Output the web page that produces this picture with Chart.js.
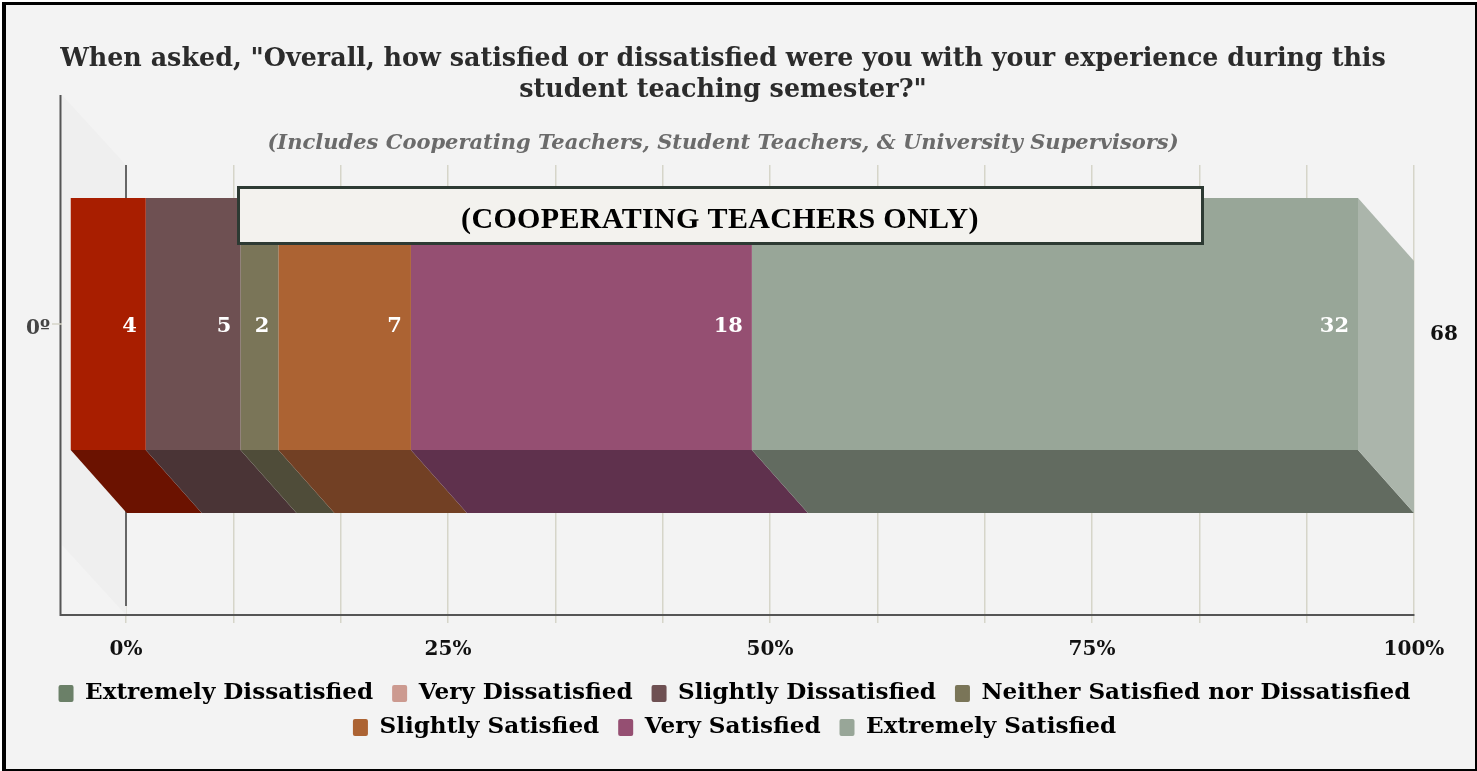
<!DOCTYPE html>
<html>
<head>
<meta charset="utf-8">
<style>
  html, body { margin: 0; background: #f3f3f3; overflow: hidden; }
  #frame { position: absolute; left: 2px; top: 2px; width: 1475px; height: 769px; box-sizing: border-box;
    border: solid #000; border-width: 3px 2px 2px 4px; box-shadow: 0 0 0 2px #fff; pointer-events: none; }
  canvas { display: block; }
</style>
</head>
<body>
<canvas id="myChart" width="1477" height="771"></canvas>
<div id="frame"></div>
<script src="https://cdn.jsdelivr.net/npm/chart.js@4"></script>
<script>
const categories = ['0º'];
const seriesNames = ['Extremely Dissatisfied', 'Very Dissatisfied', 'Slightly Dissatisfied',
  'Neither Satisfied nor Dissatisfied', 'Slightly Satisfied', 'Very Satisfied', 'Extremely Satisfied'];
const seriesValues = [0, 4, 5, 2, 7, 18, 32];
const tickLabels = ['0%', '25%', '50%', '75%', '100%'];
const barColors = ['#6b8068', '#a81e00', '#6e5052', '#7a7558', '#ac6333', '#954f72', '#98a698'];
const floorColors = ['#4a5a48', '#6b1200', '#4a3436', '#4f4c39', '#724024', '#5f314d', '#626b60'];
const legendColors = ['#6b8068', '#cc9a90', '#6e5052', '#7a7558', '#ac6333', '#954f72', '#98a698'];
const titleLines = ['When asked, "Overall, how satisfied or dissatisfied were you with your experience during this', 'student teaching semester?"'];
const subtitleText = '(Includes Cooperating Teachers, Student Teachers, & University Supervisors)';
const noteText = '(COOPERATING TEACHERS ONLY)';

const serif = '"DejaVu Serif", serif';
const noteFont = '"Liberation Serif", serif';
const total = seriesValues.reduce((a, b) => a + b, 0);

// depth of the fake 3d box
const depthX = 56, depthY = 63, shiftY = 66;

const box3d = {
  id: 'box3d',
  afterLayout(chart) {
    // title and subtitle sit a bit left of the legend
    chart.boxes.forEach(b => {
      if (b.options.text) { b.left -= 15.5; b.right -= 15.5; }
    });
  },
  beforeDatasetsDraw(chart) {
    const ctx = chart.ctx, x = chart.scales.x, area = chart.chartArea;
    const x0 = x.getPixelForValue(0);
    ctx.save();
    // left wall
    ctx.fillStyle = '#efefef';
    ctx.beginPath();
    ctx.moveTo(x0 - 64, area.top - 70);
    ctx.lineTo(x0, area.top);
    ctx.lineTo(x0, area.bottom);
    ctx.lineTo(x0 - 64, area.bottom - 70);
    ctx.fill();
    // axis lines
    ctx.strokeStyle = '#555';
    ctx.lineWidth = 2;
    ctx.beginPath();
    ctx.moveTo(x0 - 65.5, area.top - 70);
    ctx.lineTo(x0 - 65.5, area.bottom);
    ctx.lineTo(x0, area.bottom);
    ctx.stroke();
    ctx.strokeStyle = '#666';
    ctx.beginPath();
    ctx.moveTo(x0, area.top);
    ctx.lineTo(x0, area.bottom - 9);
    ctx.stroke();
    // floor faces
    chart.data.datasets.forEach((ds, i) => {
      const bar = chart.getDatasetMeta(i).data[0];
      if (!ds.data[0]) return;
      const bottom = bar.y + bar.height / 2 - shiftY;
      ctx.fillStyle = floorColors[i];
      ctx.beginPath();
      ctx.moveTo(bar.base - depthX, bottom);
      ctx.lineTo(bar.x - depthX, bottom);
      ctx.lineTo(bar.x, bottom + depthY);
      ctx.lineTo(bar.base, bottom + depthY);
      ctx.fill();
    });
    // side of the last segment
    const last = chart.getDatasetMeta(chart.data.datasets.length - 1).data[0];
    const top = last.y - last.height / 2 - shiftY;
    const bottom = last.y + last.height / 2 - shiftY;
    ctx.fillStyle = '#abb5ab';
    ctx.beginPath();
    ctx.moveTo(last.x - depthX, top);
    ctx.lineTo(last.x, top + depthY);
    ctx.lineTo(last.x, bottom + depthY);
    ctx.lineTo(last.x - depthX, bottom);
    ctx.fill();
    ctx.restore();
    // front faces are drawn shifted to the front plane
    ctx.save();
    ctx.translate(-depthX, -shiftY);
  },
  afterDatasetsDraw(chart) {
    const ctx = chart.ctx;
    ctx.restore();
    ctx.save();
    const first = chart.getDatasetMeta(0).data[0];
    const midY = first.y - shiftY;
    // value labels
    ctx.font = 'bold 21px ' + serif;
    ctx.fillStyle = '#fff';
    ctx.textAlign = 'right';
    ctx.textBaseline = 'middle';
    chart.data.datasets.forEach((ds, i) => {
      if (!ds.data[0]) return;
      const bar = chart.getDatasetMeta(i).data[0];
      ctx.fillText(ds.data[0], bar.x - depthX - 9, midY + 3);
    });
    // total on the right
    const right = chart.scales.x.getPixelForValue(total);
    ctx.fillStyle = '#111';
    ctx.textAlign = 'left';
    ctx.font = 'bold 20px ' + serif;
    ctx.fillText(total, right + 16, midY + 11);
    // category tick and label
    const x0 = chart.scales.x.getPixelForValue(0);
    ctx.strokeStyle = '#d6d5c9';
    ctx.lineWidth = 1.5;
    ctx.beginPath();
    ctx.moveTo(x0 - 74, midY);
    ctx.lineTo(x0 - 64, midY);
    ctx.stroke();
    ctx.fillStyle = '#444';
    ctx.textAlign = 'right';
    ctx.font = 'bold 20px ' + serif;
    ctx.fillText(categories[0], x0 - 76, midY + 5);
    // note box on top of everything
    ctx.fillStyle = '#f3f2ee';
    ctx.strokeStyle = '#2d3a33';
    ctx.lineWidth = 3;
    ctx.fillRect(238.5, 187.5, 964, 56);
    ctx.strokeRect(238.5, 187.5, 964, 56);
    ctx.fillStyle = '#000';
    ctx.textAlign = 'center';
    ctx.letterSpacing = '0.35px';
    ctx.font = 'bold 30px ' + noteFont;
    ctx.fillText(noteText, 720, 220);
    ctx.restore();
  }
};

const datasets = seriesNames.map((name, i) => ({
  label: name,
  data: [seriesValues[i]],
  backgroundColor: barColors[i],
  barPercentage: 0.56,
  categoryPercentage: 1
}));

const config = {
  type: 'bar',
  data: { labels: categories, datasets: datasets },
  plugins: [box3d],
  options: {
    indexAxis: 'y',
    responsive: false,
    animation: false,
    layout: { padding: { bottom: 22 } },
    plugins: {
      title: {
        display: true,
        text: titleLines,
        color: '#2b2b2b',
        font: { family: serif, weight: 'bold', size: 25.4, lineHeight: '31px' },
        padding: { top: 44, bottom: 8 }
      },
      subtitle: {
        display: true,
        text: subtitleText,
        color: '#6b6b6b',
        font: { family: serif, weight: 'bold', style: 'italic', size: 21, lineHeight: '28px' },
        padding: { top: 16, bottom: 7 }
      },
      legend: {
        position: 'bottom',
        labels: {
          boxWidth: 15,
          boxHeight: 17,
          padding: 10.9,
          useBorderRadius: true,
          borderRadius: 2,
          color: '#111',
          font: { family: serif, weight: 'bold', size: 23.1 },
          // the trailing space widens the gap between items, padding also sets the row height
          generateLabels: () => seriesNames.map((name, i) => ({
            text: name + ' ',
            fillStyle: legendColors[i],
            strokeStyle: legendColors[i],
            lineWidth: 0,
            borderRadius: 2,
            datasetIndex: i
          }))
        }
      },
      tooltip: { enabled: false }
    },
    scales: {
      x: {
        stacked: true,
        min: 0,
        max: total,
        grid: { color: '#d6d5c9', lineWidth: 1.5, tickLength: 8 },
        border: { color: '#555', width: 2 },
        afterFit: s => { s.height -= 6; },
        ticks: {
          stepSize: total / 12,
          autoSkip: false,
          maxRotation: 0,
          padding: 15,
          color: '#111',
          font: { family: serif, weight: 'bold', size: 20 },
          callback: (v, i) => (i % 3 === 0 ? tickLabels[i / 3] : '')
        }
      },
      y: {
        stacked: true,
        grid: { display: false },
        border: { display: false },
        ticks: { display: false },
        afterFit: s => { s.width = 126; }
      },
      yEnd: {
        type: 'linear',
        position: 'right',
        grid: { display: false },
        border: { display: false },
        ticks: { display: false },
        afterFit: s => { s.width = 63; }
      }
    }
  }
};

const myChart = new Chart(document.getElementById('myChart'), config);
</script>
</body>
</html>
